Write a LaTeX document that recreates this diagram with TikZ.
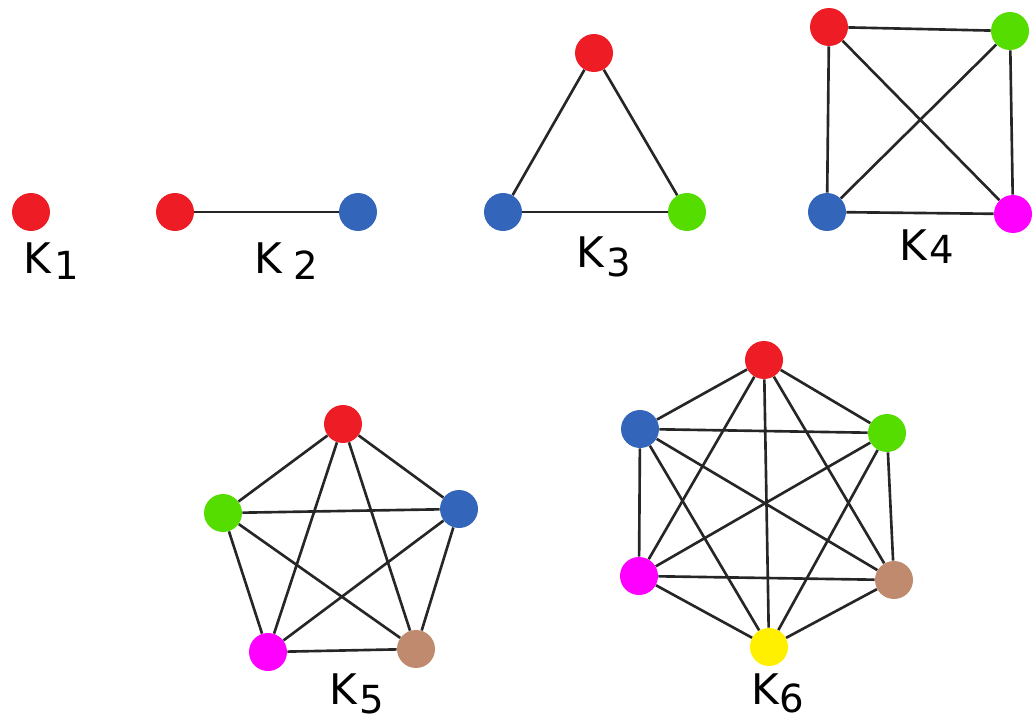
\documentclass[tikz,border=0pt]{standalone}
\usepackage{fontspec}
\setmainfont{DejaVu Sans}
\usepackage{xcolor}
\usepackage{tikz}

\definecolor{vred}{HTML}{EE1C25}
\definecolor{vblue}{HTML}{3366BB}
\definecolor{vgreen}{HTML}{55DD00}
\definecolor{vmagenta}{HTML}{FF00FF}
\definecolor{vbrown}{HTML}{C08A6E}
\definecolor{vyellow}{HTML}{FFF000}

% graph name: K, gap, subscript digit, drop
\newcommand{\kname}[3]{K\hspace*{#2}\raisebox{-#3}{\fontsize{22}{22}\selectfont #1}}

\begin{document}
\begin{tikzpicture}[
    x=0.02cm,y=-0.02cm,
    vertex/.style={circle,inner sep=0pt,minimum size=0.76cm},
    edge/.style={line width=1.5pt,black!85},
    gname/.style={anchor=base west,inner sep=0pt,font=\fontsize{24}{24}\selectfont}
]
\useasboundingbox (0,0) rectangle (1034,723);

%%% Top row: K1 .. K4
% K1
\node[vertex,fill=vred] (a1) at (31,212) {};
\node[gname] (la) at (23,273) {\kname{1}{0.07cm}{0.14cm}};

% K2
\node[vertex,fill=vred]  (b1) at (175,212) {};
\node[vertex,fill=vblue] (b2) at (358,212) {};
\draw[edge] (b1) -- (b2);
\node[gname] (lb) at (254,273) {\kname{2}{0.23cm}{0.14cm}};

% K3
\node[vertex,fill=vred]   (c1) at (594,53) {};
\node[vertex,fill=vblue]  (c2) at (503,212) {};
\node[vertex,fill=vgreen] (c3) at (687,212) {};
\draw[edge] (c1) -- (c2);
\draw[edge] (c1) -- (c3);
\draw[edge] (c2) -- (c3);
\node[gname] (lc) at (576,267) {\kname{3}{0.05cm}{0.20cm}};

% K4
\node[vertex,fill=vred]     (d1) at (829,27) {};
\node[vertex,fill=vgreen]   (d2) at (1010,31) {};
\node[vertex,fill=vblue]    (d3) at (827,212) {};
\node[vertex,fill=vmagenta] (d4) at (1013,214) {};
\draw[edge] (d1) -- (d2);
\draw[edge] (d1) -- (d3);
\draw[edge] (d1) -- (d4);
\draw[edge] (d2) -- (d3);
\draw[edge] (d2) -- (d4);
\draw[edge] (d3) -- (d4);
\node[gname] (ld) at (899,260) {\kname{4}{0.05cm}{0.06cm}};

%%% Bottom row: K5 and K6
% K5: pentagon
\node[vertex,fill=vred]     (e1) at (343,424) {};
\node[vertex,fill=vgreen]   (e2) at (223,513) {};
\node[vertex,fill=vblue]    (e3) at (459,509) {};
\node[vertex,fill=vmagenta] (e4) at (268,652) {};
\node[vertex,fill=vbrown]   (e5) at (416,649) {};
\draw[edge] (e1) -- (e2) (e1) -- (e3) (e1) -- (e4) (e1) -- (e5);
\draw[edge] (e2) -- (e3) (e2) -- (e4) (e2) -- (e5);
\draw[edge] (e3) -- (e4) (e3) -- (e5);
\draw[edge] (e4) -- (e5);
\node[gname] (le) at (329,704) {\kname{5}{0.05cm}{0.18cm}};

% K6: hexagon
\node[vertex,fill=vred]     (f1) at (764,360) {};
\node[vertex,fill=vblue]    (f2) at (640,429) {};
\node[vertex,fill=vgreen]   (f3) at (887,433) {};
\node[vertex,fill=vmagenta] (f4) at (639,576) {};
\node[vertex,fill=vbrown]   (f5) at (894,580) {};
\node[vertex,fill=vyellow]  (f6) at (769,647) {};
\draw[edge] (f1) -- (f2) (f1) -- (f3) (f1) -- (f4) (f1) -- (f5) (f1) -- (f6);
\draw[edge] (f2) -- (f3) (f2) -- (f4) (f2) -- (f5) (f2) -- (f6);
\draw[edge] (f3) -- (f4) (f3) -- (f5) (f3) -- (f6);
\draw[edge] (f4) -- (f5) (f4) -- (f6);
\draw[edge] (f5) -- (f6);
\node[gname] (lf) at (751,704) {\kname{6}{0.01cm}{0.16cm}};
\end{tikzpicture}
\end{document}
